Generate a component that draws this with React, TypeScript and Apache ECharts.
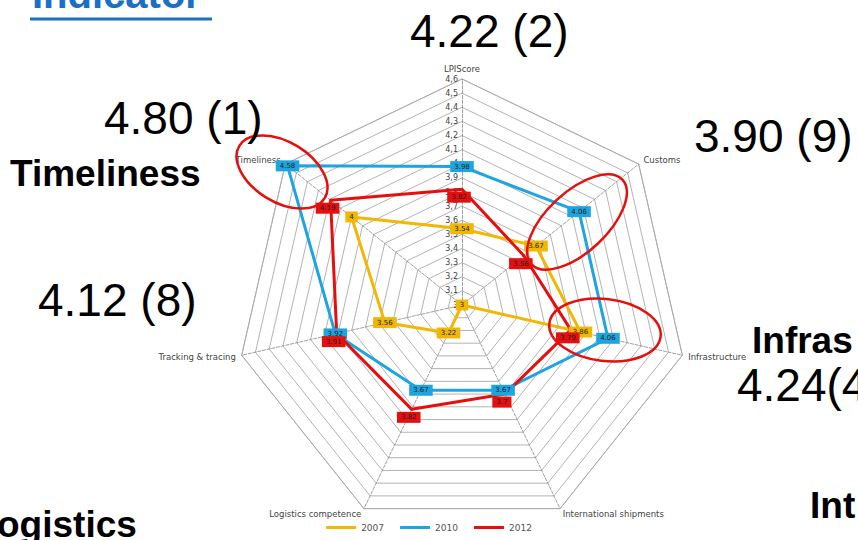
import React, { useEffect, useRef } from "react";
import * as echarts from "echarts";

// Indicators in ECharts order (counter-clockwise starting at the top)
const indicatorNames = [
  "LPIScore",
  "Timeliness",
  "Tracking & tracing",
  "Logistics competence",
  "International shipments",
  "Infrastructure",
  "Customs",
];

const seriesNames = ["2007", "2010", "2012"];
const values2007 = [3.54, 4, 3.56, 3.22, 3, 3.86, 3.67];
const values2010 = [3.98, 4.58, 3.92, 3.67, 3.67, 4.06, 4.06];
const values2012 = [3.82, 4.19, 3.91, 3.82, 3.7, 3.79, 3.56];
const seriesColors = ["#F2B705", "#1EA5E0", "#E50F0E"];

const axisMin = 3;
const axisMax = 4.6;
const axisSplits = 16; // ticks 3, 3,1 ... 4,6

const annotations = [
  { text: "4.22 (2)", x: 410, y: 8, size: 46, bold: false },
  { text: "4.80 (1)", x: 104, y: 95, size: 46, bold: false },
  { text: "Timeliness", x: 10, y: 155, size: 37, bold: true },
  { text: "3.90 (9)", x: 694, y: 113, size: 46, bold: false },
  { text: "4.12 (8)", x: 38, y: 277, size: 46, bold: false },
  { text: "Infras", x: 752, y: 322, size: 37, bold: true },
  { text: "4.24(4", x: 737, y: 362, size: 46, bold: false },
  { text: "Int", x: 810, y: 487, size: 37, bold: true },
  { text: "ogistics", x: -3, y: 506, size: 37, bold: true },
];

const fmtTick = (v: number) => {
  const r = Math.round(v * 10) / 10;
  return Number.isInteger(r) ? String(r) : r.toFixed(1).replace(".", ",");
};

const labelOffsets = [
  [0, 0],
  [0, 0],
  [-3, 8],
];

export default function App() {
  const ref = useRef<HTMLDivElement>(null);
  useEffect(() => {
    if (!ref.current) return;
    const chart = echarts.init(ref.current, undefined, { renderer: "svg" });
    const allSeries = [values2007, values2010, values2012];
    const graphic: any[] = annotations.map((a) => ({
      type: "text",
      x: a.x,
      y: a.y,
      z: 100,
      style: {
        text: a.text,
        fontSize: a.size,
        fontWeight: a.bold ? "bold" : "normal",
        fontFamily: "Liberation Sans, Arial, sans-serif",
        fill: "#000",
        textVerticalAlign: "top",
      },
    }));
    graphic.push(
      {
        type: "text",
        x: 32,
        y: -26,
        z: 100,
        style: {
          text: "Indicator",
          fontSize: 40,
          fontWeight: "bold",
          fontFamily: "Liberation Sans, Arial, sans-serif",
          fill: "#1B6FC6",
          textVerticalAlign: "top",
        },
      },
      {
        type: "line",
        z: 100,
        shape: { x1: 30, y1: 19, x2: 212, y2: 19 },
        style: { stroke: "#1B6FC6", lineWidth: 3 },
      },
      {
        type: "ellipse",
        z: 90,
        x: 282,
        y: 172,
        rotation: -0.55,
        shape: { cx: 0, cy: 0, rx: 50, ry: 30 },
        style: { fill: "none", stroke: "#E50F0E", lineWidth: 2.5 },
      },
      {
        type: "ellipse",
        z: 90,
        x: 577,
        y: 222,
        rotation: 0.75,
        shape: { cx: 0, cy: 0, rx: 62, ry: 30 },
        style: { fill: "none", stroke: "#E50F0E", lineWidth: 2.5 },
      },
      {
        type: "ellipse",
        z: 90,
        x: 605,
        y: 330,
        rotation: -0.12,
        shape: { cx: 0, cy: 0, rx: 56, ry: 31 },
        style: { fill: "none", stroke: "#E50F0E", lineWidth: 2.5 },
      }
    );

    chart.setOption({
      animation: false,
      backgroundColor: "#fff",
      legend: {
        data: seriesNames,
        bottom: 3,
        left: "center",
        icon: "rect",
        itemWidth: 30,
        itemHeight: 3,
        itemGap: 16,
        textStyle: { fontSize: 9, color: "#555", fontFamily: "DejaVu Sans" },
      },
      radar: {
        center: [462, 305],
        radius: 226,
        startAngle: 90,
        splitNumber: axisSplits,
        shape: "polygon",
        axisName: { color: "#444", fontSize: 8.5, fontFamily: "DejaVu Sans" },
        nameGap: 6,
        axisLine: { lineStyle: { color: "#888", type: "dashed", width: 0.8 } },
        splitLine: { lineStyle: { color: "#aaa", width: 0.9 } },
        splitArea: { show: false },
        axisLabel: { show: false },
        indicator: indicatorNames.map((name, i) => ({
          name,
          min: axisMin,
          max: axisMax,
          ...(i === 0
            ? {
                axisLabel: {
                  show: true,
                  fontSize: 8,
                  color: "#444",
                  fontFamily: "DejaVu Sans",
                  formatter: fmtTick,
                  margin: 4,
                },
              }
            : {}),
        })),
      },
      series: [
        {
          type: "radar",
          data: allSeries.map((vals, i) => ({
            name: seriesNames[i],
            value: vals,
            symbol: "rect",
            symbolSize: 2,
            lineStyle: { color: seriesColors[i], width: 3 },
            itemStyle: { color: seriesColors[i] },
            label: {
              show: true,
              position: "inside",
              offset: labelOffsets[i],
              formatter: (p: any) => String(p.value),
              fontSize: 7,
              color: "#222",
              fontFamily: "DejaVu Sans",
              backgroundColor: seriesColors[i],
              padding: [2, 4],
            },
          })),
        },
      ],
      graphic,
    });
    return () => chart.dispose();
  }, []);
  return (
    <div
      ref={ref}
      style={{ position: "fixed", left: 0, top: 0, width: 858, height: 540 }}
    />
  );
}
